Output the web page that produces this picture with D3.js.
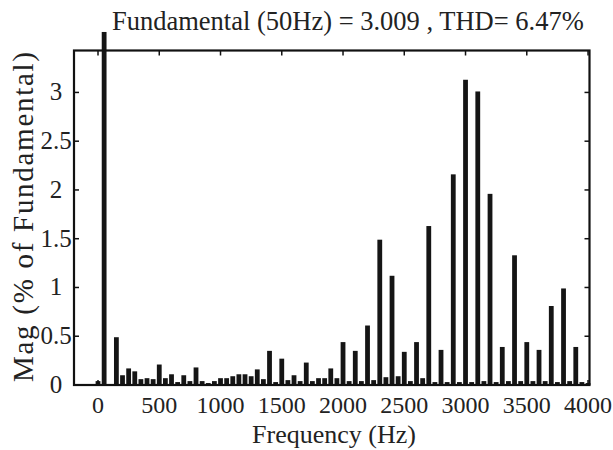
<!DOCTYPE html>
<html>
<head>
<meta charset="utf-8">
<script src="https://cdn.jsdelivr.net/npm/d3@7"></script>
<style>
  body { margin: 0; background: #fff; }
</style>
</head>
<body>
<div id="chart"></div>
<script>
// harmonic frequencies (Hz) and magnitudes (% of fundamental)
var freqs = [0, 50, 100, 150, 200, 250, 300, 350, 400, 450,
	500, 550, 600, 650, 700, 750, 800, 850, 900, 950,
	1000, 1050, 1100, 1150, 1200, 1250, 1300, 1350, 1400, 1450,
	1500, 1550, 1600, 1650, 1700, 1750, 1800, 1850, 1900, 1950,
	2000, 2050, 2100, 2150, 2200, 2250, 2300, 2350, 2400, 2450,
	2500, 2550, 2600, 2650, 2700, 2750, 2800, 2850, 2900, 2950,
	3000, 3050, 3100, 3150, 3200, 3250, 3300, 3350, 3400, 3450,
	3500, 3550, 3600, 3650, 3700, 3750, 3800, 3850, 3900, 3950, 4000];
var mags = [0.04, 3.62, 0.01, 0.49, 0.10, 0.17, 0.14, 0.06, 0.07, 0.06,
	0.21, 0.07, 0.11, 0.03, 0.10, 0.04, 0.18, 0.04, 0.02, 0.04,
	0.07, 0.07, 0.09, 0.11, 0.11, 0.09, 0.16, 0.06, 0.35, 0.03,
	0.27, 0.05, 0.10, 0.04, 0.23, 0.04, 0.07, 0.07, 0.17, 0.07,
	0.44, 0.04, 0.35, 0.04, 0.61, 0.05, 1.49, 0.08, 1.12, 0.09,
	0.34, 0.04, 0.44, 0.07, 1.63, 0.03, 0.36, 0.03, 2.16, 0.03,
	3.13, 0.03, 3.01, 0.04, 1.96, 0.03, 0.39, 0.04, 1.33, 0.04,
	0.44, 0.04, 0.36, 0.04, 0.81, 0.03, 0.99, 0.04, 0.39, 0.03, 0.02];
var xTicks = [0, 500, 1000, 1500, 2000, 2500, 3000, 3500, 4000];
var yTicks = [0, 0.5, 1, 1.5, 2, 2.5, 3];
var titleText = "Fundamental (50Hz) = 3.009 , THD= 6.47%";

var width = 613, height = 450;
var margin = { top: 50.5, right: 23.5, bottom: 65, left: 74 };
var serif = "Liberation Serif";

var svg = d3.select("#chart").append("svg")
	.attr("width", width).attr("height", height)
	.style("font-family", serif);

var x = d3.scaleLinear().domain([-196, 4012]).range([margin.left, width - margin.right]);
var y = d3.scaleLinear().domain([0, 3.43]).range([height - margin.bottom, margin.top]);

var data = d3.zip(freqs, mags);
var barW = 4.8;

// bars (no clipping, the fundamental pokes out the top like the original)
svg.append("g").selectAll("rect")
	.data(data)
	.enter().append("rect")
	.attr("x", function(d) { return x(d[0]) - barW / 2; })
	.attr("y", function(d) { return y(d[1]); })
	.attr("width", barW)
	.attr("height", function(d) { return y(0) - y(d[1]); })
	.attr("fill", "#151515");

// ticks, inside on all four sides
var tickLen = 5;
var tg = svg.append("g").attr("stroke", "#111").attr("stroke-width", 1.5);
xTicks.forEach(function(t) {
	tg.append("line").attr("x1", x(t)).attr("x2", x(t)).attr("y1", y.range()[0]).attr("y2", y.range()[0] - tickLen);
	tg.append("line").attr("x1", x(t)).attr("x2", x(t)).attr("y1", y.range()[1]).attr("y2", y.range()[1] + tickLen);
});
yTicks.forEach(function(t) {
	tg.append("line").attr("x1", x.range()[0]).attr("x2", x.range()[0] + tickLen).attr("y1", y(t)).attr("y2", y(t));
	tg.append("line").attr("x1", x.range()[1]).attr("x2", x.range()[1] - tickLen).attr("y1", y(t)).attr("y2", y(t));
});

// frame
svg.append("rect")
	.attr("x", x.range()[0]).attr("y", y.range()[1])
	.attr("width", x.range()[1] - x.range()[0])
	.attr("height", y.range()[0] - y.range()[1])
	.attr("fill", "none").attr("stroke", "#111").attr("stroke-width", 2.2);

// tick labels
svg.append("g").selectAll("text")
	.data(xTicks).enter().append("text")
	.attr("x", function(d) { return x(d); })
	.attr("y", 413)
	.attr("text-anchor", "middle")
	.attr("font-size", 24)
	.attr("fill", "#222")
	.text(function(d) { return d; });

svg.append("g").selectAll("text")
	.data(yTicks).enter().append("text")
	.attr("x", 56)
	.attr("y", function(d) { return y(d) + 8; })
	.attr("text-anchor", "middle")
	.attr("font-size", 25)
	.attr("fill", "#222")
	.text(function(d) { return d; });

// labels and title
svg.append("text")
	.attr("x", 334).attr("y", 443)
	.attr("text-anchor", "middle")
	.attr("font-size", 26)
	.attr("fill", "#222")
	.text("Frequency (Hz)");

svg.append("text")
	.attr("transform", "translate(33," + 217 + ") rotate(-90)")
	.attr("text-anchor", "middle")
	.attr("font-size", 29)
	.attr("textLength", 330)
	.attr("lengthAdjust", "spacing")
	.attr("fill", "#222")
	.text("Mag (% of Fundamental)");

svg.append("text")
	.attr("x", 112).attr("y", 30)
	.attr("font-size", 26.5)
	.attr("fill", "#222")
	.text(titleText);
</script>
</body>
</html>
